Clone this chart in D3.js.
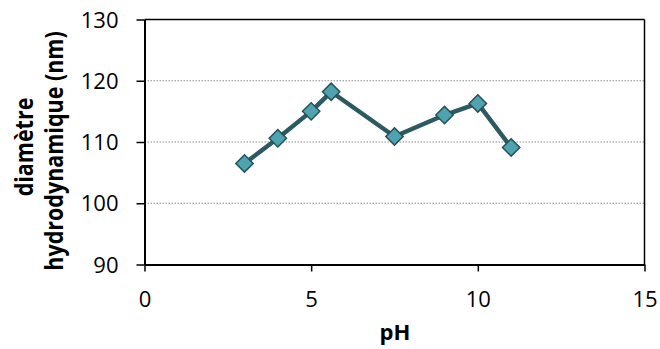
<!DOCTYPE html>
<html>
<head>
<meta charset="utf-8">
<script src="https://cdn.jsdelivr.net/npm/d3@7"></script>
<style>
html,body{margin:0;padding:0;background:#fff;}
svg{display:block;}
</style>
</head>
<body>
<svg id="chart" width="660" height="349"></svg>
<script>
const pH = [3, 4, 5, 5.6, 7.5, 9, 10, 11];
const diameter = [106.5, 110.6, 115.0, 118.2, 110.9, 114.4, 116.3, 109.1];
const xTicks = [0, 5, 10, 15];
const yTicks = [90, 100, 110, 120, 130];
const gridValues = [100, 110, 120];
const xTitle = "pH";
const yTitleLines = ["diamètre", "hydrodynamique (nm)"];

const svg = d3.select("#chart");
const pLeft = 144.5, pRight = 644.5, pTop = 19.5, pBottom = 264.5;
const x = d3.scaleLinear().domain([0, 15]).range([pLeft, pRight]);
const y = d3.scaleLinear().domain([90, 130]).range([pBottom, pTop]);
const font = "'Open Sans', sans-serif";
const sx = 1.05;

// gridlines
svg.append("g").selectAll("line").data(gridValues).join("line")
  .attr("x1", pLeft).attr("x2", pRight)
  .attr("y1", d => y(d)).attr("y2", d => y(d))
  .attr("stroke", "#8c8c8c").attr("stroke-width", 1)
  .attr("stroke-dasharray", "1.5,1.5");

// plot border top/right
svg.append("line").attr("x1", pLeft).attr("x2", pRight).attr("y1", pTop).attr("y2", pTop)
  .attr("stroke", "#000").attr("stroke-width", 1.5);
svg.append("line").attr("x1", pRight).attr("x2", pRight).attr("y1", pTop).attr("y2", pBottom)
  .attr("stroke", "#000").attr("stroke-width", 1.5);

// y axis
const yAxis = svg.append("g").attr("transform", `translate(${pLeft},0)`)
  .call(d3.axisLeft(y).tickValues(yTicks).tickSize(8).tickSizeOuter(0).tickFormat(d3.format("d")));
yAxis.select(".domain").attr("stroke", "#000").attr("stroke-width", 2);
yAxis.selectAll(".tick line").attr("stroke", "#000").attr("stroke-width", 1.5);
yAxis.selectAll(".tick text")
  .attr("x", 0).attr("dy", "0.36em")
  .attr("transform", `translate(-26,0) scale(${sx},1)`)
  .attr("font-family", font).attr("font-size", 21).attr("fill", "#000")
  .attr("text-anchor", "end");

// x axis
const xAxis = svg.append("g").attr("transform", `translate(0,${pBottom})`)
  .call(d3.axisBottom(x).tickValues(xTicks).tickSize(7).tickSizeOuter(0).tickFormat(d3.format("d")));
xAxis.select(".domain").attr("stroke", "#000").attr("stroke-width", 2);
xAxis.selectAll(".tick line").attr("stroke", "#000").attr("stroke-width", 1.5);
xAxis.selectAll(".tick text")
  .attr("y", 0).attr("dy", 0)
  .attr("transform", `translate(0,42.5) scale(${sx},1)`)
  .attr("font-family", font).attr("font-size", 21).attr("fill", "#000")
  .attr("text-anchor", "middle");

// titles
svg.append("text").text(xTitle)
  .attr("transform", `translate(395,340) scale(1.05,1)`)
  .attr("text-anchor", "middle")
  .attr("font-family", font).attr("font-weight", "bold").attr("font-size", 21);

const titleX = [33, 63];
const titleY = [147, 151];
yTitleLines.forEach((t, i) => {
  svg.append("text").text(t)
    .attr("transform", `translate(${titleX[i]},${titleY[i]}) scale(1.15,1) rotate(-90)`)
    .attr("text-anchor", "middle")
    .attr("font-family", font).attr("font-weight", "bold").attr("font-size", 21.5);
});

// line
const data = pH.map((p, i) => ({p, d: diameter[i]}));
svg.append("path").datum(data)
  .attr("fill", "none").attr("stroke", "#2b5a60").attr("stroke-width", 4.5)
  .attr("stroke-linejoin", "round")
  .attr("d", d3.line().x(d => x(d.p)).y(d => y(d.d)));

// markers
const sym = d3.symbol().type(d3.symbolSquare).size(150);
svg.append("g").selectAll("path").data(data).join("path")
  .attr("d", sym)
  .attr("transform", d => `translate(${x(d.p)},${y(d.d)}) rotate(45)`)
  .attr("fill", "#4fa3b0").attr("stroke", "#24525a").attr("stroke-width", 1.5);
</script>
</body>
</html>
